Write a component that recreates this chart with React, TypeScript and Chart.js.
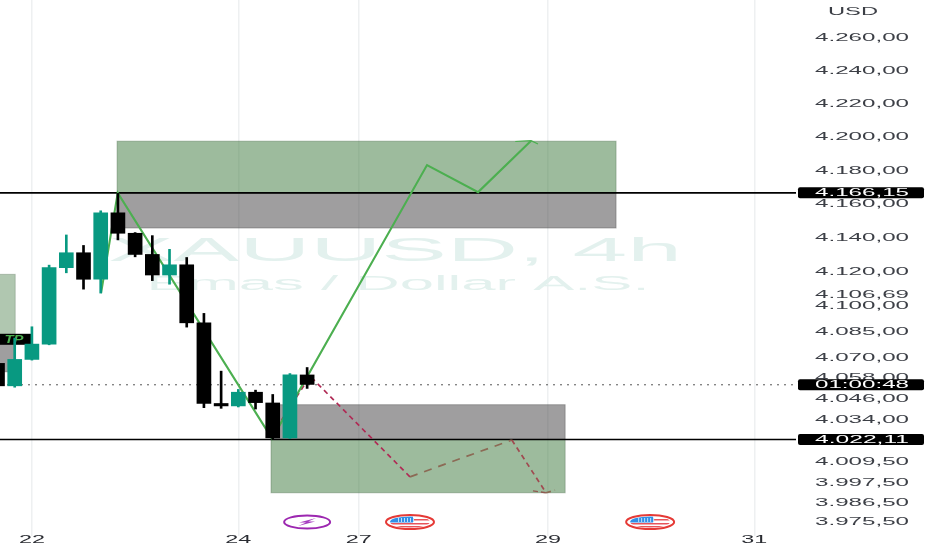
import { useEffect, useRef } from 'react';
import { Chart, registerables } from 'chart.js';

Chart.register(...registerables);

// one 4h candle per entry, the first one is cut off by the left edge
const candleIndex = [0, 1, 2, 3, 4, 5, 6, 7, 8, 9, 10, 11, 12, 13, 14, 15, 16, 17, 18];
const opens = [4066, 4053, 4068.3, 4077.2, 4121.9, 4130.7, 4115.1, 4154.3, 4142.2, 4129.7, 4117.6, 4123.6, 4089.6, 4042.8, 4041.4, 4049.3, 4043.1, 4023, 4059.3];
const closes = [4053, 4068.3, 4077.2, 4121.9, 4130.7, 4115.1, 4154.3, 4142.2, 4129.7, 4117.6, 4123.6, 4089.6, 4042.8, 4041.4, 4049.3, 4043.3, 4023, 4059.3, 4053.8];
const highs = [4066.5, 4080.7, 4087.3, 4123.4, 4141.2, 4135, 4155.5, 4165.85, 4142.6, 4140.8, 4132.7, 4127.9, 4095.1, 4061.5, 4050.9, 4050.5, 4048, 4060.1, 4063.6];
const lows = [4052.5, 4052.2, 4067.9, 4076.8, 4118.9, 4109.3, 4107, 4138.3, 4128.3, 4114.3, 4112.2, 4087.1, 4040.4, 4040, 4040.8, 4039.6, 4022, 4022.6, 4051.5];

const priceTicks = [4260, 4240, 4220, 4200, 4180, 4160, 4140, 4120, 4106.69, 4100, 4085, 4070, 4058, 4046, 4034, 4009.5, 3997.5, 3986.5, 3975.5];
const dayTicks = [2, 14, 21, 32, 44];
const dayLabels = ['22', '24', '27', '29', '31'];

const upperLevel = 4166.15;
const lowerLevel = 4022.11;
const lastPrice = 4053.6;
const countdown = '01:00:48';

// [from, to, top, bottom]
const greenZones = [
  [6.95, 35.96, 4197, 4166.15],
  [15.9, 33, 4022.11, 3991.6],
];
const grayZones = [
  [6.95, 35.96, 4166.15, 4145.3],
  [15.9, 33, 4042.1, 4022.11],
  [0, 1.03, 4080.7, 4061.1],
];
const oldGreenZone = [0, 1.03, 4118, 4080.7];

const bullX = [6.02, 6.99, 15.96, 24.97, 27.94, 31.02];
const bullY = [4107, 4166.15, 4022.6, 4182.7, 4166.6, 4197.3];
const bullTailX = [30.1, 31.02, 31.42];
const bullTailY = [4196.8, 4197.3, 4195.3];
const bearX = [16.52, 18.17, 23.98, 29.9, 31.89, 32.41];
const bearY = [4033.3, 4058.6, 4000.7, 4021.8, 3991.6, 3993.1];
const bearColors = ['#b02a55', '#b02a55', '#8c6a55', '#a04a50', '#8c6a55'];
const bearTailX = [31.13, 31.89];
const bearTailY = [3992.7, 3991.6];

const boltEvents = [18];
const flagEvents = [23.98, 37.94];

const money = (v: number) => v.toLocaleString('de-DE', { minimumFractionDigits: 2, maximumFractionDigits: 2 });
const toPoints = (xs: number[], ys: number[]) => xs.map((x, i) => ({ x, y: ys[i] }));

// the whole screenshot is stretched sideways, so text gets squeezed to a target width
function wideText(ctx: CanvasRenderingContext2D, text: string, cx: number, cy: number, width: number) {
  const natural = ctx.measureText(text).width;
  ctx.save();
  ctx.translate(cx, cy);
  ctx.scale(width / natural, 1);
  ctx.textAlign = 'center';
  ctx.textBaseline = 'middle';
  ctx.fillText(text, 0, 0);
  ctx.restore();
}

const backdrop = {
  id: 'backdrop',
  beforeDatasetsDraw(chart: any) {
    const { ctx, scales, chartArea } = chart;
    ctx.save();
    ctx.beginPath();
    ctx.rect(chartArea.left, chartArea.top, chartArea.width, chartArea.height);
    ctx.clip();

    ctx.fillStyle = '#e3f1ee';
    ctx.font = '34px "Liberation Sans"';
    wideText(ctx, 'XAUUSD, 4h', 395, 252, 574);
    ctx.font = '20px "Liberation Sans"';
    wideText(ctx, 'Emas / Dollar A.S.', 398, 284, 503);

    const paint = (zones: number[][], fill: string, edge: string) => {
      zones.forEach(([from, to, top, bottom]) => {
        const x = scales.x.getPixelForValue(from);
        const y = scales.y.getPixelForValue(top);
        const w = scales.x.getPixelForValue(to) - x;
        const h = scales.y.getPixelForValue(bottom) - y;
        ctx.fillStyle = fill;
        ctx.fillRect(x, y, w, h);
        ctx.strokeStyle = edge;
        ctx.lineWidth = 1;
        ctx.strokeRect(x, y, w, h);
      });
    };
    paint(greenZones, 'rgba(60,120,60,0.5)', 'rgba(70,100,70,0.35)');
    paint([oldGreenZone], 'rgba(80,130,80,0.45)', 'rgba(70,100,70,0.3)');
    paint(grayZones, 'rgba(64,62,64,0.5)', 'rgba(60,60,60,0.35)');

    // TP tag on the left edge, the wick of the first whole candle runs over it
    const tagY = scales.y.getPixelForValue(4080);
    ctx.fillStyle = '#000';
    ctx.fillRect(0, tagY - 5.5, scales.x.getPixelForValue(1.95), 11);
    ctx.fillStyle = '#4caf50';
    ctx.font = 'italic bold 11px "Liberation Sans"';
    wideText(ctx, 'TP', 14, tagY + 0.5, 19);
    ctx.restore();
  },
};

const overlay = {
  id: 'overlay',
  afterDraw(chart: any) {
    const { ctx, scales } = chart;
    const { x: xs, y: ys } = scales;
    ctx.save();

    // events row
    const eventY = 522;
    boltEvents.forEach((v) => {
      const x = xs.getPixelForValue(v);
      ctx.strokeStyle = '#9c27b0';
      ctx.lineWidth = 2;
      ctx.beginPath();
      ctx.ellipse(x, eventY, 23, 6.5, 0, 0, Math.PI * 2);
      ctx.stroke();
      ctx.fillStyle = '#a63cc0';
      ctx.beginPath();
      ctx.moveTo(x + 9, eventY - 4);
      ctx.lineTo(x - 8, eventY + 0.5);
      ctx.lineTo(x - 1, eventY + 0.5);
      ctx.lineTo(x - 9, eventY + 4);
      ctx.lineTo(x + 8, eventY - 0.5);
      ctx.lineTo(x + 1, eventY - 0.5);
      ctx.closePath();
      ctx.fill();
    });
    flagEvents.forEach((v) => {
      const x = xs.getPixelForValue(v);
      ctx.save();
      ctx.beginPath();
      ctx.ellipse(x, eventY, 20, 5.5, 0, 0, Math.PI * 2);
      ctx.clip();
      ctx.fillStyle = '#fff';
      ctx.fillRect(x - 22, eventY - 7, 44, 14);
      ctx.fillStyle = '#e8545a';
      ctx.fillRect(x + 3, eventY - 3, 20, 1.5);
      ctx.fillRect(x - 22, eventY + 1, 44, 1.5);
      ctx.fillRect(x - 22, eventY + 4, 44, 2);
      ctx.fillStyle = '#2f8fe8';
      ctx.fillRect(x - 22, eventY - 7, 25, 7.5);
      ctx.fillStyle = '#bfe0fa';
      for (let i = -4; i <= 1; i += 1) {
        ctx.fillRect(x + i * 3, eventY - 4, 1, 4);
      }
      ctx.restore();
      ctx.strokeStyle = '#e53935';
      ctx.lineWidth = 2;
      ctx.beginPath();
      ctx.ellipse(x, eventY, 24, 7, 0, 0, Math.PI * 2);
      ctx.stroke();
    });

    // axis labels
    ctx.fillStyle = '#3c3f46';
    ctx.font = '11px "Liberation Sans"';
    wideText(ctx, 'USD', 853, 11.5, 50);
    priceTicks.forEach((p) => wideText(ctx, money(p), 862, ys.getPixelForValue(p) + 1, 94));
    ctx.fillStyle = '#2a2c32';
    dayTicks.forEach((d, i) => wideText(ctx, dayLabels[i], xs.getPixelForValue(d), 540, 26));

    // price tags sit on top of the axis labels
    const tag = (text: string, value: number) => {
      const y = ys.getPixelForValue(value);
      ctx.fillStyle = '#000';
      ctx.beginPath();
      ctx.roundRect(798, y - 5.5, 126, 11, 2);
      ctx.fill();
      ctx.fillStyle = '#fff';
      wideText(ctx, text, 862, y + 0.5, 94);
    };
    tag(money(upperLevel), upperLevel);
    tag(countdown, lastPrice);
    tag(money(lowerLevel), lowerLevel);
    ctx.restore();
  },
};

export default function App() {
  const canvasRef = useRef<HTMLCanvasElement>(null);

  useEffect(() => {
    if (!canvasRef.current) return;
    const xMin = 0.145;
    const xMax = 46.42;
    const teal = '#089981';
    const colors = candleIndex.map((_, i) => (closes[i] > opens[i] ? teal : '#000000'));
    const flatLine = (y: number) => [{ x: xMin, y }, { x: xMax, y }];

    const chart = new Chart(canvasRef.current, {
      type: 'bar',
      data: {
        datasets: [
          {
            label: 'bodies',
            data: candleIndex.map((x, i) => ({ x, y: [opens[i], closes[i]] })),
            backgroundColor: colors,
            barThickness: 14,
            grouped: false,
            order: 1,
          },
          {
            label: 'wicks',
            data: candleIndex.map((x, i) => ({ x, y: [lows[i], highs[i]] })),
            backgroundColor: colors,
            barThickness: 2,
            grouped: false,
            order: 2,
          },
          {
            type: 'line',
            label: 'bull path',
            data: toPoints(bullX, bullY),
            borderColor: '#4caf50',
            borderWidth: 2.1,
            pointRadius: 0,
            order: 3,
          },
          {
            type: 'line',
            label: 'bull tail',
            data: toPoints(bullTailX, bullTailY),
            borderColor: '#4caf50',
            borderWidth: 1.2,
            pointRadius: 0,
            order: 3,
          },
          {
            type: 'line',
            label: 'bear path',
            data: toPoints(bearX, bearY),
            borderColor: '#b02a55',
            borderWidth: 1.7,
            borderDash: [5, 4],
            pointRadius: 0,
            segment: {
              borderColor: (seg: any) => bearColors[seg.p0DataIndex],
              borderDash: (seg: any) => (seg.p0DataIndex === 2 ? [8, 7] : [5, 4]),
            },
            order: 3,
          },
          {
            type: 'line',
            label: 'bear tail',
            data: toPoints(bearTailX, bearTailY),
            borderColor: '#8f5a50',
            borderWidth: 1.4,
            borderDash: [5, 3],
            pointRadius: 0,
            order: 3,
          },
          {
            type: 'line',
            label: 'upper level',
            data: flatLine(upperLevel),
            borderColor: '#000000',
            borderWidth: 1.6,
            pointRadius: 0,
            order: 4,
          },
          {
            type: 'line',
            label: 'lower level',
            data: flatLine(lowerLevel),
            borderColor: '#000000',
            borderWidth: 1.6,
            pointRadius: 0,
            order: 4,
          },
          {
            type: 'line',
            label: 'last price',
            data: flatLine(lastPrice),
            borderColor: '#555555',
            borderWidth: 1,
            borderDash: [2, 5],
            pointRadius: 0,
            order: 4,
          },
        ] as any,
      },
      options: {
        animation: false,
        responsive: false,
        devicePixelRatio: 1,
        layout: { padding: 0 },
        plugins: { legend: { display: false }, tooltip: { enabled: false } },
        scales: {
          x: {
            type: 'linear',
            min: xMin,
            max: xMax,
            offset: false,
            grid: { color: '#eef0f1', lineWidth: 1.5, offset: false },
            border: { display: false },
            ticks: { display: false },
            afterBuildTicks: (scale: any) => {
              scale.ticks = dayTicks.map((value) => ({ value }));
            },
            afterFit: (scale: any) => {
              scale.height = 22;
            },
          },
          y: {
            type: 'logarithmic',
            position: 'right',
            min: 3971.6,
            max: 4282.4,
            bounds: 'data',
            grid: { display: false },
            border: { display: false },
            ticks: { display: false },
            afterFit: (scale: any) => {
              scale.width = 136;
            },
          },
        },
      } as any,
      plugins: [backdrop, overlay],
    });

    return () => {
      chart.destroy();
    };
  }, []);

  return (
    <div style={{ position: 'fixed', left: 0, top: 0, width: 932, height: 550, background: '#fff' }}>
      <canvas ref={canvasRef} width={932} height={550} style={{ display: 'block' }} />
    </div>
  );
}
